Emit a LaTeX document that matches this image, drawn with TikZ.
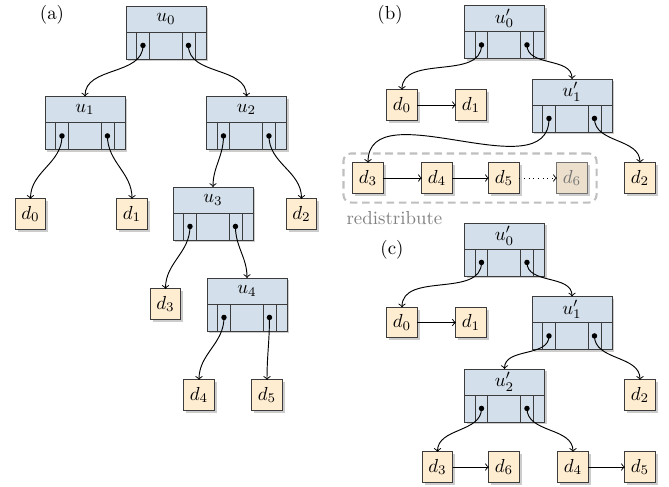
\documentclass[tikz,border=0pt]{standalone}
\usepackage{tikz}
\usepackage{amsmath}
\usetikzlibrary{arrows,calc,shadows,fit}
\definecolor{node_blue}{RGB}{211, 223, 234}
\definecolor{leaf_tan}{RGB}{255, 237, 210}
\definecolor{leaf_old}{RGB}{236, 224, 204}
\definecolor{edge_grey}{RGB}{60, 60, 60}
\tikzstyle{un}=[rectangle,fill=node_blue,draw=edge_grey,line width=0.5pt,
  minimum width=42.4pt,minimum height=28.1pt,inner sep=0pt,outer sep=0pt,
  drop shadow={shadow xshift=1.3pt,shadow yshift=-1.3pt,opacity=0.4}]
\tikzstyle{dn}=[rectangle,fill=leaf_tan,draw=edge_grey,line width=0.5pt,
  minimum width=16pt,minimum height=16pt,inner sep=0pt,outer sep=0pt,
  drop shadow={shadow xshift=1.3pt,shadow yshift=-1.3pt,opacity=0.4}]
\tikzstyle{gone}=[dn,fill=leaf_old,draw=black!55,text=black!55]
\tikzstyle{link}=[->,line width=0.5pt]
\tikzstyle{none}=[]
% inner node: box, header line, pointer cells and dots
\newcommand{\unode}[3]{%
  \node [style=un] (#1) at (#2) {};
  \node [style=none] (#1t) at ($(#1.north)+(0,-6.9pt)$) {$#3$};
  \draw [edge_grey,line width=0.5pt] ($(#1.north west)+(0,-13.8pt)$) -- ($(#1.north east)+(0,-13.8pt)$);
  \foreach \xx in {5.8,12.2,29.7,36.6}
    \draw [edge_grey,line width=0.5pt] ($(#1.south west)+(\xx pt,0)$) -- ($(#1.south west)+(\xx pt,14.3pt)$);
  \coordinate (#1l) at ($(#1.south west)+(9pt,7.2pt)$);
  \coordinate (#1r) at ($(#1.south west)+(33.1pt,7.2pt)$);
  \fill (#1l) circle (1.45pt);
  \fill (#1r) circle (1.45pt);
}

\begin{document}
\begin{tikzpicture}[x=0.53pt,y=-0.53pt]
        \useasboundingbox (0,0) rectangle (669,486);
        % (a)
        \node [style=none] (la) at (52,15) {(a)};
        \unode{a0}{166,32.5}{u_0}
        \unode{a1}{85,123}{u_1}
        \unode{a2}{246.5,123}{u_2}
        \unode{a3}{213,213.5}{u_3}
        \unode{a4}{247,304.5}{u_4}
        \node [style=dn] (ad0) at (30.5,214) {$d_0$};
        \node [style=dn] (ad1) at (132,214) {$d_1$};
        \node [style=dn] (ad2) at (301.5,214) {$d_2$};
        \node [style=dn] (ad3) at (165.5,304) {$d_3$};
        \node [style=dn] (ad4) at (199,395) {$d_4$};
        \node [style=dn] (ad5) at (267,395) {$d_5$};
        \draw [style=link] (a0l) to[out=-90,in=90] (a1);
        \draw [style=link] (a0r) to[out=-90,in=90] (a2);
        \draw [style=link] (a1l) to[out=-90,in=90] (ad0);
        \draw [style=link] (a1r) to[out=-90,in=90] (ad1);
        \draw [style=link] (a2l) to[out=-90,in=90] (a3);
        \draw [style=link] (a2r) to[out=-90,in=90] (ad2);
        \draw [style=link] (a3l) to[out=-90,in=90] (ad3);
        \draw [style=link] (a3r) to[out=-90,in=90] (a4);
        \draw [style=link] (a4l) to[out=-90,in=90] (ad4);
        \draw [style=link] (a4r) to[out=-90,in=90] (ad5);

        % (b)
        \node [style=none] (lb) at (390,15) {(b)};
        \unode{b0}{504.5,32}{u'_0}
        \unode{b1}{572,105.5}{u'_1}
        \node [style=dn] (bd0) at (402,105) {$d_0$};
        \node [style=dn] (bd1) at (471,105) {$d_1$};
        \node [style=dn] (bd3) at (368,178) {$d_3$};
        \node [style=dn] (bd4) at (437,178) {$d_4$};
        \node [style=dn] (bd5) at (504,178) {$d_5$};
        \node [style=gone] (bd6) at (572,178) {$d_6$};
        \node [style=dn] (bd2) at (640,178) {$d_2$};
        \node [draw=black!25,line width=1.1pt,dash pattern=on 4pt off 2.5pt,rounded corners=4pt,
          inner sep=5pt,fit=(bd3) (bd6)] (redist) {};
        \node [anchor=north west,text=black!50,inner sep=1pt] (redistt) at ($(redist.south west)+(1pt,-3pt)$) {redistribute};
        \draw [style=link] (b0l) to[out=-90,in=90] (bd0);
        \draw [style=link] (b0r) to[out=-90,in=90] (b1);
        \draw [style=link] (b1l) to[out=-90,in=90] (bd3);
        \draw [style=link] (b1r) to[out=-90,in=90] (bd2);
        \draw [style=link] (bd0) -- (bd1);
        \draw [style=link] (bd3) -- (bd4);
        \draw [style=link] (bd4) -- (bd5);
        \draw [style=link,dotted] (bd5) -- (bd6);

        % (c)
        \node [style=none] (lc) at (392,250) {(c)};
        \unode{c0}{504.5,249.5}{u'_0}
        \unode{c1}{572,323}{u'_1}
        \unode{c2}{504.5,395.5}{u'_2}
        \node [style=dn] (cd0) at (402,322.5) {$d_0$};
        \node [style=dn] (cd1) at (471,322.5) {$d_1$};
        \node [style=dn] (cd2) at (640,395) {$d_2$};
        \node [style=dn] (cd3) at (437.5,467) {$d_3$};
        \node [style=dn] (cd6) at (504,467) {$d_6$};
        \node [style=dn] (cd4) at (573,467) {$d_4$};
        \node [style=dn] (cd5) at (640,467) {$d_5$};
        \draw [style=link] (c0l) to[out=-90,in=90] (cd0);
        \draw [style=link] (c0r) to[out=-90,in=90] (c1);
        \draw [style=link] (c1l) to[out=-90,in=90] (c2);
        \draw [style=link] (c1r) to[out=-90,in=90] (cd2);
        \draw [style=link] (c2l) to[out=-90,in=90] (cd3);
        \draw [style=link] (c2r) to[out=-90,in=90] (cd4);
        \draw [style=link] (cd0) -- (cd1);
        \draw [style=link] (cd3) -- (cd6);
        \draw [style=link] (cd4) -- (cd5);
    \end{tikzpicture}
\end{document}
